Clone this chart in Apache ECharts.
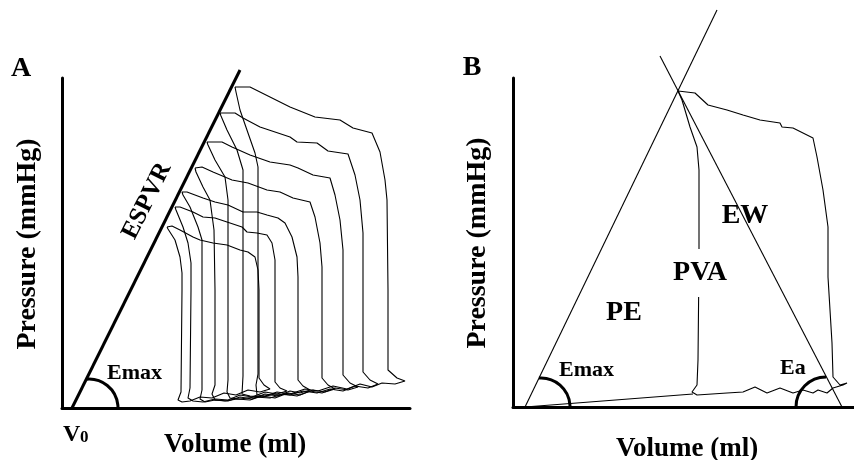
<!DOCTYPE html>
<html>
<head>
<meta charset="utf-8">
<script src="https://cdn.jsdelivr.net/npm/echarts@6/dist/echarts.min.js"></script>
<style>
  html, body { margin: 0; padding: 0; background: #fff; }
  #chart { width: 854px; height: 460px; }
</style>
</head>
<body>
<div id="chart"></div>
<script>
// volume (ml) / pressure (mmHg)

// panel A: ESPVR and seven loops
const espvrA = [[5, 0], [89, 169]];
const loopA1 = [[86.5,160.5],[94,160.5],[104,155.5],[114,150.5],[126.5,145.5],[139,144],[145.5,140],[155,137.5],[159,128],[161.5,114],[162.5,104],[163,59],[163,19],[167.5,15],[171.5,13.5],[166.5,12],[160,12.5],[155,10.5],[149,12],[142.5,9.5],[135.5,11],[128,8.5],[121.5,9.5],[114,7],[107.5,8],[101.5,6],[97.5,6.5],[97,11.5],[98,17],[98,59],[98,104],[98,120.5],[96.5,127.5],[93,137.5],[89,149],[87,158],[86.5,160.5]];
const loopA2 = [[79,147.5],[86.5,147.5],[90.5,145],[99,140.5],[114,135.5],[117.5,133],[127.5,132.5],[133,128.5],[143,127],[146.5,116.5],[149,104],[150.5,87.5],[150.5,59],[150.5,18],[154,14],[158,12],[153,10],[146.5,11],[140.5,8.5],[134,9.5],[127.5,7.5],[120.5,8.5],[114,6.5],[106.5,7],[100,5.5],[94,6],[90,7],[90.5,16],[90.5,59],[90.5,104],[90.5,119],[87.5,129],[82.5,139],[79.5,146],[79,147.5]];
const loopA3 = [[72.5,133],[80,133],[85,130.5],[94,126.5],[104,123],[114,121.5],[118,120],[125.5,116.5],[134,115],[136.5,106.5],[139,94],[140.5,79],[140.5,59],[140.5,16.5],[144,12.5],[148,10.5],[143,9],[136.5,10],[130,7.5],[124,8.5],[117.5,6],[110.5,7],[104,5],[96.5,5.5],[89,4.5],[84,5],[82.5,8],[83,14],[83,59],[83,104],[81.5,115.5],[76.5,124],[73,131.5],[72.5,133]];
const loopA4 = [[66.5,120],[70,120.5],[75.5,118],[85,114],[93,112.5],[102.5,109],[109,108],[115.5,105],[124,103],[126.5,95.5],[129,82.5],[130,70.5],[130,59],[130,15],[133,11.5],[136.5,9.5],[131.5,8],[125.5,9],[119,6.5],[113,7.5],[106.5,5],[100,6],[94,4],[87.5,4.5],[81.5,3.5],[76.5,4],[75,7],[76.5,11.5],[76.5,59],[76,89],[74,104],[70.5,110.5],[67,118],[66.5,120]];
const loopA5 = [[60,108],[62.5,108],[70.5,105],[76.5,103],[83,101.5],[90.5,98],[97.5,98],[102.5,96.5],[108,95],[111.5,92.5],[115,85.5],[117.5,75.5],[118,65.5],[118,14],[120.5,11],[124,9],[119,7.5],[114,8.5],[108,6],[101.5,7],[95,4.5],[89,5.5],[83,3.5],[76.5,4],[71.5,3],[69,4.5],[70,9],[70,59],[70,84],[68,90.5],[64,100.5],[60.5,106.5],[60,108]];
const loopA6 = [[56.5,100.5],[59,100.5],[65.5,98],[70.5,95.5],[76.5,95],[82.5,93],[90,90.5],[92.5,88],[97.5,87.5],[102.5,86.5],[105,82.5],[106.5,74],[106.5,59],[106.5,13],[109,10],[112.5,8.5],[107.5,7],[101.5,8],[95,5.5],[89,6.5],[83,4],[76.5,4.5],[70.5,3],[65.5,3.5],[63,5],[64,10],[64.5,59],[64.5,72.5],[63,82.5],[60.5,90.5],[57,99],[56.5,100.5]];
const loopA7 = [[52.5,90.5],[55,91],[59,89],[65.5,85.5],[69,84],[75.5,82.5],[82.5,81.5],[89,79],[93,78],[96.5,75.5],[98,69],[98.5,59],[98.5,15],[101,11.5],[104,9.5],[99,8],[93,9],[87,6.5],[81,7.5],[75,5],[69,5.5],[64,3.5],[60,3],[58,4],[59.5,8],[60,59],[60,67.5],[59,75.5],[56.5,84],[53,89.5],[52.5,90.5]];

// panel B: Emax line, Ea line, EDPVR and one loop
const emaxLineB = [[6, 0], [102, 198.5]];
const eaLineB = [[73.5, 175.5], [164.5, 0]];
const edpvrB = [[6, 0], [90, 6.5]];
const loopB = [[82.5,158],[91,157],[97.5,151],[107,148.5],[115,146],[123.5,143.5],[133.5,142],[134.5,140],[140,139.5],[150,134.5],[152,125],[155,108.5],[157.5,90],[157.5,65],[159.5,32],[160,15],[163.5,11],[167,12],[165,11],[160,9.5],[157,7],[152.5,8.5],[150,7],[145,8.5],[140,7],[133.5,9.5],[127,7],[121,10],[115,7.5],[107,7],[92,6],[89.5,7.5],[92,11],[92.5,23.5],[93,73.5],[93,118.5],[92,130],[88.5,140],[84.5,153.5],[82.5,158]];

// arc centres (angle marks)
const emaxArcA = [13.5, 0];
const emaxArcB = [14, 0];
const eaArcB = [156.5, 0];

const serif = '"Liberation Serif", "Times New Roman", serif';

function axis(gridIndex, max) {
  return {
    type: 'value', gridIndex: gridIndex, min: 0, max: max,
    axisLine: { show: true, onZero: false, lineStyle: { color: '#000', width: 3 } },
    axisTick: { show: false }, axisLabel: { show: false }, splitLine: { show: false }
  };
}

function curve(data, idx, width) {
  return {
    type: 'line', data: data, xAxisIndex: idx, yAxisIndex: idx,
    symbol: 'none', clip: false, silent: true,
    lineStyle: { color: '#000', width: width || 1.1 }
  };
}

function label(text, x, y, size, opts) {
  opts = opts || {};
  return {
    type: 'text', x: x, y: y, rotation: opts.rotation || 0, z: 100,
    style: Object.assign({
      text: text,
      font: 'bold ' + size + 'px ' + serif,
      fill: '#000',
      textAlign: opts.align || 'center',
      textVerticalAlign: 'middle'
    }, opts.style || {})
  };
}

const chartDom = document.getElementById('chart');
const myChart = echarts.init(chartDom);

const option = {
  animation: false,
  backgroundColor: '#fff',
  grid: [
    { left: 62, top: 78, width: 348, height: 330 },
    { left: 513, top: 78, width: 341, height: 329 }
  ],
  xAxis: [axis(0, 174), axis(1, 170.5)],
  yAxis: [axis(0, 165), axis(1, 164.5)],
  series: [
    curve(espvrA, 0, 3),
    curve(loopA1, 0), curve(loopA2, 0), curve(loopA3, 0), curve(loopA4, 0),
    curve(loopA5, 0), curve(loopA6, 0), curve(loopA7, 0),
    curve(emaxLineB, 1), curve(eaLineB, 1), curve(edpvrB, 1), curve(loopB, 1)
  ]
};

myChart.setOption(option);

function arc(gridIndex, pt, r, start, end) {
  const p = myChart.convertToPixel({ gridIndex: gridIndex }, pt);
  return {
    type: 'arc', z: 100,
    shape: { cx: p[0], cy: p[1], r: r, startAngle: start, endAngle: end, clockwise: true },
    style: { stroke: '#000', lineWidth: 3, fill: 'none' }
  };
}

myChart.setOption({
  graphic: [
    arc(0, emaxArcA, 29, -1.674, 0),
    arc(1, emaxArcB, 29, -1.64, 0),
    arc(1, eaArcB, 30, -Math.PI, -Math.PI / 2),
    label('A', 21, 69, 28),
    label('B', 472, 68, 28),
    label('Pressure (mmHg)', 28, 244, 28, { rotation: Math.PI / 2 }),
    label('Pressure (mmHg)', 478, 243, 28, { rotation: Math.PI / 2 }),
    label('Volume (ml)', 235, 445, 27),
    label('Volume (ml)', 687, 449, 27),
    label('ESPVR', 147, 201, 25, { rotation: 1.11 }),
    label('Emax', 107, 373, 22, { align: 'left' }),
    label('Emax', 559, 370, 22, { align: 'left' }),
    label('Ea', 780, 368, 22, { align: 'left' }),
    label('V', 63, 435, 24, { align: 'left' }),
    label('0', 80, 438, 17, { align: 'left' }),
    label('PE', 624, 313, 28),
    label('PVA', 700, 273, 28, { style: { backgroundColor: '#fff', padding: [10, 2] } }),
    label('EW', 745, 216, 28)
  ]
});

window.addEventListener('resize', function () {
  myChart.resize();
});
</script>
</body>
</html>
